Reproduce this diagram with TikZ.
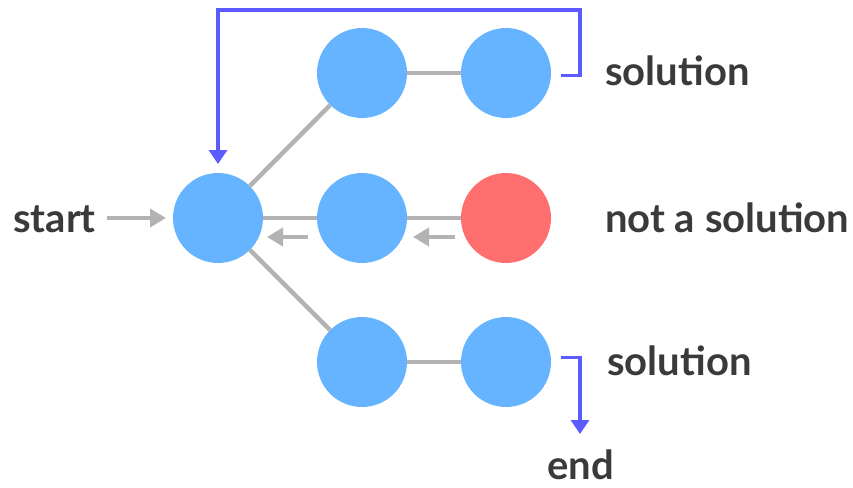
\documentclass[tikz,border=0pt]{standalone}
\usepackage{fontspec}
\setmainfont{Lato}
\usetikzlibrary{arrows.meta}
\definecolor{nodeblue}{HTML}{66B3FF}
\definecolor{nodered}{HTML}{FF6F6F}
\definecolor{edgegray}{HTML}{B3B3B3}
\definecolor{pathblue}{HTML}{5B5BFF}
\definecolor{txt}{HTML}{3A3A3A}
\tikzset{
  st/.style={circle,fill=nodeblue,minimum size=90pt,inner sep=0pt},
  bad/.style={st,fill=nodered},
  edge/.style={draw=edgegray,line width=4.5pt},
  garrow/.style={draw=edgegray,line width=4pt,-{Triangle[length=16pt,width=18pt]}},
  barrow/.style={draw=pathblue,line width=3.2pt,-{Triangle[length=14pt,width=18pt]}},
  lab/.style={text=txt,font=\fontsize{40}{46}\selectfont\bfseries,inner sep=0pt,anchor=base west},
}
\begin{document}
\begin{tikzpicture}[x=1pt,y=-1pt]
\useasboundingbox (0,0) rectangle (853,487);
% nodes
\node[st] (r) at (218,218) {};
\node[st] (a1) at (362,73) {};
\node[st] (a2) at (506,73) {};
\node[st] (b1) at (362,218) {};
\node[bad] (b2) at (506,218) {};
\node[st] (c1) at (362,362) {};
\node[st] (c2) at (506,362) {};
% edges
\draw[edge] (r) -- (a1);
\draw[edge] (a1) -- (a2);
\draw[edge] (r) -- (b1);
\draw[edge] (b1) -- (b2);
\draw[edge] (r) -- (c1);
\draw[edge] (c1) -- (c2);
% labels
\node[lab] (ls) at (13,232) {start};
\node[lab] (l1) at (605,85) {solution};
\node[lab] (l2) at (605,232) {not a solution};
\node[lab] (l3) at (607,375) {solution};
\node[lab] (le) at (547,479) {end};
% gray arrows
\coordinate (s0) at (107,218);
\coordinate (s1) at (166,218);
\draw[garrow] (s0) -- (s1);
\coordinate (k0) at (308,237);
\coordinate (k1) at (267,237);
\draw[garrow] (k0) -- (k1);
\coordinate (m0) at (455,237);
\coordinate (m1) at (413,237);
\draw[garrow] (m0) -- (m1);
% blue paths
\coordinate (p0) at (561,75.5);
\coordinate (p1) at (580,75.5);
\coordinate (p2) at (580,10);
\coordinate (p3) at (218,10);
\coordinate (p4) at (218,164);
\draw[barrow,line join=miter] (p0) -- (p1) -- (p2) -- (p3) -- (p4);
\coordinate (q0) at (561,357.5);
\coordinate (q1) at (580,357.5);
\coordinate (q2) at (580,434);
\draw[barrow,line join=miter] (q0) -- (q1) -- (q2);
\end{tikzpicture}
\end{document}
